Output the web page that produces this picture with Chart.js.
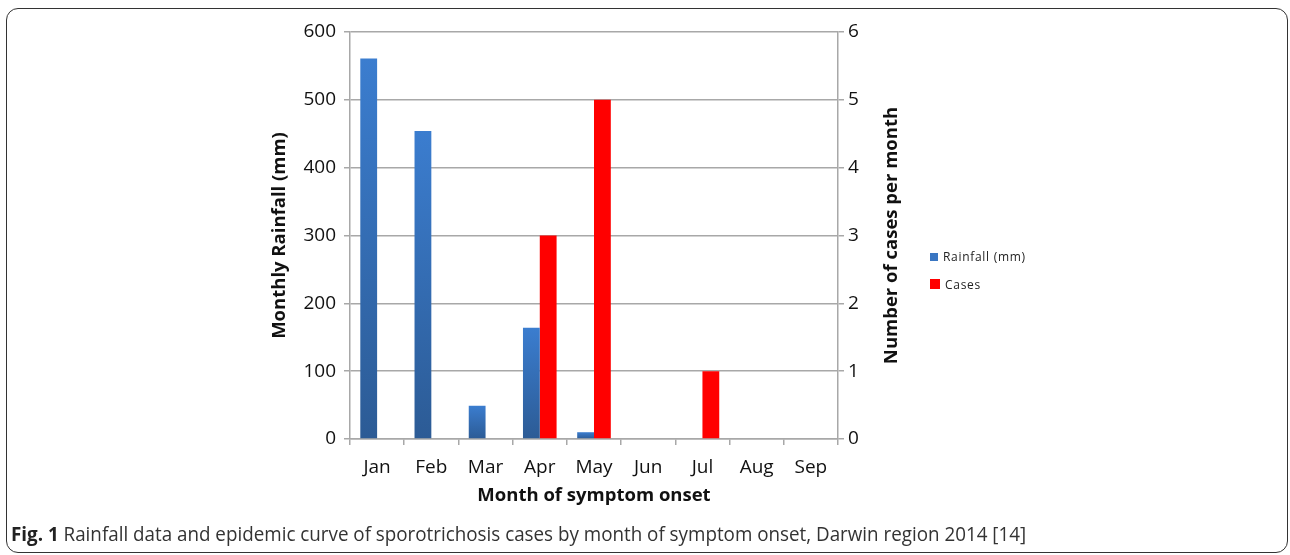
<!DOCTYPE html>
<html>
<head>
<meta charset="utf-8">
<script src="https://cdn.jsdelivr.net/npm/chart.js@4.4.1/dist/chart.umd.min.js"></script>
<style>
  body { margin: 0; background: #fff; width: 1290px; height: 555px; overflow: hidden; position: relative; }
  #frame { position: absolute; left: 6px; top: 8px; width: 1282px; height: 545px; border: 1.5px solid #333; border-radius: 12px; box-sizing: border-box; }
  #wrap { position: absolute; left: 0; top: 0; width: 1290px; height: 555px; }
  .legend { position: absolute; left: 930px; font-family: 'Open Sans', sans-serif; font-size: 12px; color: #222; letter-spacing: 0.7px; }
  .legend span { display: inline-block; width: 8px; height: 8px; margin-right: 5px; vertical-align: 0px; }
  #caption { position: absolute; left: 11px; top: 520px; font-family: 'Open Sans', sans-serif; font-size: 20px; color: #333; white-space: nowrap; transform: scaleX(0.94); transform-origin: 0 0; }
  #caption b { color: #222; }
</style>
</head>
<body>
<div id="frame"></div>
<div id="wrap"><canvas id="chart"></canvas></div>
<div class="legend" style="top:248px"><span style="background:#3a76c2"></span>Rainfall (mm)</div>
<div class="legend" style="top:276px"><span style="background:#ff0000;width:10px;height:10px"></span>Cases</div>
<div id="caption"><b>Fig. 1</b> Rainfall data and epidemic curve of sporotrichosis cases by month of symptom onset, Darwin region 2014 [14]</div>
<script>
const months = ['Jan', 'Feb', 'Mar', 'Apr', 'May', 'Jun', 'Jul', 'Aug', 'Sep'];
const rainfall = [561, 454, 49, 164, 10, 0, 0, 0, 0];
const cases = [0, 0, 0, 3, 5, 0, 1, 0, 0];
const rainMax = 600, rainStep = 100;
const casesMax = 6, casesStep = 1;

const tickFont = { family: "'Open Sans', sans-serif", size: 19 };
const titleFont = { family: "'Open Sans', sans-serif", size: 18.5, weight: 'bold' };
const gridGrey = '#a8a8a8';

// each blue bar gets its own light-to-dark gradient like the original
function rainGradient(ctx) {
  const chart = ctx.chart;
  if (!chart.chartArea || ctx.type !== 'data') return '#3a76c2';
  const y = chart.scales.y;
  const top = y.getPixelForValue(ctx.raw);
  const bottom = y.getPixelForValue(0);
  if (bottom - top < 1) return '#3a76c2';
  const g = chart.ctx.createLinearGradient(0, top, 0, bottom);
  g.addColorStop(0, '#3b7dcf');
  g.addColorStop(1, '#2c5b95');
  return g;
}

const rightTitle = {
  id: 'rightTitle',
  afterDraw(chart) {
    const { ctx, chartArea } = chart;
    ctx.save();
    ctx.translate(892, (chartArea.top + chartArea.bottom) / 2);
    ctx.rotate(-Math.PI / 2);
    ctx.font = "bold 18.5px 'Open Sans', sans-serif";
    ctx.fillStyle = '#111';
    ctx.textAlign = 'center';
    ctx.textBaseline = 'middle';
    ctx.fillText('Number of cases per month', 0, 0);
    ctx.restore();
  }
};

new Chart(document.getElementById('chart'), {
  type: 'bar',
  data: {
    labels: months,
    datasets: [
      { label: 'Rainfall (mm)', data: rainfall, yAxisID: 'y', backgroundColor: rainGradient,
        borderWidth: 0, categoryPercentage: 0.62, barPercentage: 1 },
      { label: 'Cases', data: cases, yAxisID: 'y1', backgroundColor: '#ff0000',
        borderWidth: 0, categoryPercentage: 0.62, barPercentage: 1 }
    ]
  },
  options: {
    responsive: true,
    maintainAspectRatio: false,
    animation: false,
    layout: { padding: { left: 265, right: 382, top: 32, bottom: 36 } },
    plugins: { legend: { display: false }, tooltip: { enabled: false } },
    scales: {
      x: {
        grid: { drawOnChartArea: false, offset: true, tickLength: 6, color: gridGrey, lineWidth: 1.5 },
        border: { color: gridGrey, width: 1.5 },
        ticks: { font: tickFont, color: '#111', padding: 11 },
        title: { display: true, text: 'Month of symptom onset', font: titleFont, color: '#111', padding: { top: 0, bottom: 12 } },
        afterFit: s => { s.height = 80; }
      },
      y: {
        position: 'left', min: 0, max: rainMax,
        ticks: { stepSize: rainStep, font: tickFont, color: '#111', padding: 8 },
        grid: { color: gridGrey, lineWidth: 1.5, tickLength: 6 },
        border: { color: gridGrey, width: 1.5 },
        title: { display: true, text: 'Monthly Rainfall (mm)', font: titleFont, color: '#111', padding: 4 },
        afterFit: s => { s.width = 85; }
      },
      y1: {
        position: 'right', min: 0, max: casesMax,
        ticks: { stepSize: casesStep, font: tickFont, color: '#111', padding: 4 },
        grid: { drawOnChartArea: false, color: gridGrey, lineWidth: 1.5, tickLength: 6 },
        border: { color: gridGrey, width: 1.5 },
        afterFit: s => { s.width = 70; }
      }
    }
  },
  plugins: [rightTitle]
});
</script>
</body>
</html>
